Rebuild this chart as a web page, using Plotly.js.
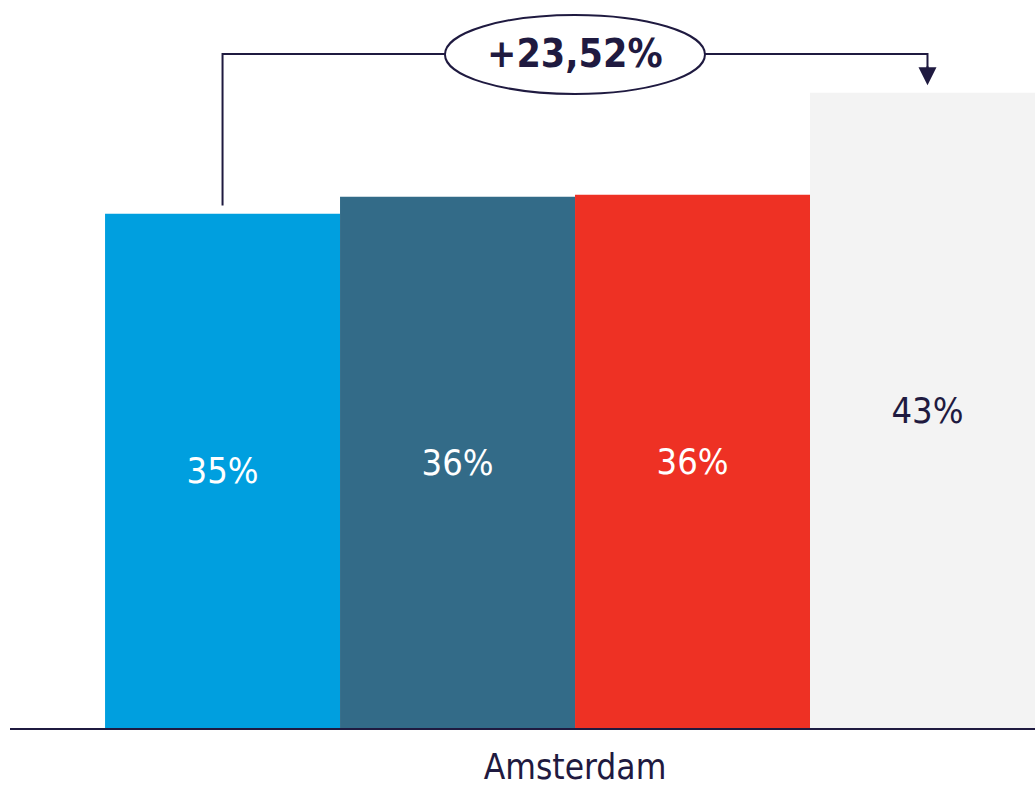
<!DOCTYPE html>
<html>
<head>
<meta charset="utf-8">
<script src="https://cdn.plot.ly/plotly-3.0.1.min.js"></script>
<style>html,body{margin:0;padding:0;background:#fff;}#chart{width:1035px;height:788px;}</style>
</head>
<body>
<div id="chart"></div>
<script>
const categories = ["Amsterdam"];
const seriesNames = ["Series 1", "Series 2", "Series 3", "Series 4"];
const seriesValues = [[34.81], [35.96], [36.1], [43.0]];
const seriesColors = ["#009fdf", "#336b88", "#ee3124", "#f3f3f3"];
const labelColors = ["#ffffff", "#ffffff", "#ffffff", "#1f1a40"];
const changeLabel = "+23,52%";

const dark = "#1f1a40";
const font = "DejaVu Sans Condensed, DejaVu Sans, sans-serif";

const traces = seriesValues.map((vals, i) => ({
  type: "bar",
  name: seriesNames[i],
  x: categories,
  y: vals,
  marker: {color: seriesColors[i], line: {width: 0}},
  texttemplate: "%{y:.0f}%",
  textposition: "inside",
  insidetextanchor: "middle",
  textangle: 0,
  textfont: {family: font, size: 36, color: labelColors[i]},
  hoverinfo: "skip"
}));

const v1 = seriesValues[0][0], v4 = seriesValues[3][0];
const xFirst = -0.3, xLast = 0.3;
const yTop = v4 + 2.63;

const layout = {
  width: 1035, height: 788,
  margin: {l: 10, r: 0, t: 10, b: 60},
  paper_bgcolor: "#ffffff", plot_bgcolor: "#ffffff",
  barmode: "group", bargap: 0.2, bargroupgap: 0,
  showlegend: false,
  xaxis: {
    type: "category",
    range: [-0.4809, 0.3915],
    showline: true, linecolor: dark, linewidth: 2,
    ticks: "", showgrid: false, zeroline: false,
    tickfont: {family: font, size: 35, color: dark},
    ticklabelstandoff: 7,
    fixedrange: true
  },
  yaxis: {
    range: [0, 48.6], visible: false, showgrid: false, zeroline: false, fixedrange: true
  },
  shapes: [
    {type: "path", xref: "x", yref: "y",
     path: `M ${xFirst} ${v1 + 0.55} L ${xFirst} ${yTop} L ${xLast} ${yTop} L ${xLast} ${v4 + 1.6}`,
     line: {color: dark, width: 2}},
    {type: "circle", xref: "x", yref: "y",
     x0: -0.1107, x1: 0.1106, y0: v4 - 0.08, y1: v4 + 5.27,
     fillcolor: "#ffffff", line: {color: dark, width: 2}, layer: "above"}
  ],
  annotations: [
    {x: xLast, y: v4 + 0.5, xref: "x", yref: "y", ax: xLast, ay: v4 + 1.9, axref: "x", ayref: "y",
     text: "", showarrow: true, arrowhead: 2, arrowsize: 1.8, arrowwidth: 2, arrowcolor: dark},
    {x: 0, y: yTop, xref: "x", yref: "y", text: "<b>" + changeLabel + "</b>", showarrow: false,
     font: {family: font, size: 39, color: dark}}
  ]
};

Plotly.newPlot("chart", traces, layout, {displayModeBar: false, staticPlot: true});
</script>
</body>
</html>
